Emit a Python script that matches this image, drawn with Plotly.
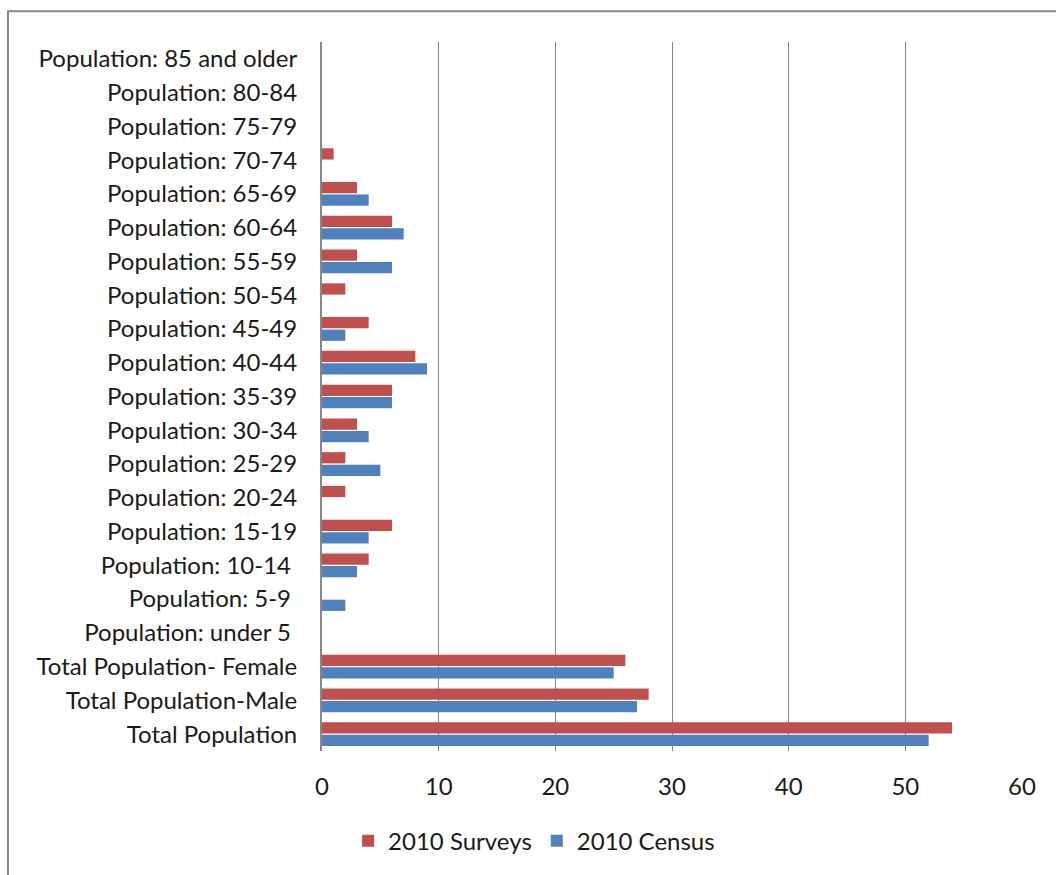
import plotly.graph_objects as go

# Categories listed bottom-to-top as they appear on the vertical axis
categories = [
    "Total Population",
    "Total Population-Male",
    "Total Population- Female",
    "Population: under 5\u00a0",
    "Population: 5-9\u00a0",
    "Population: 10-14\u00a0",
    "Population: 15-19",
    "Population: 20-24",
    "Population: 25-29",
    "Population: 30-34",
    "Population: 35-39",
    "Population: 40-44",
    "Population: 45-49",
    "Population: 50-54",
    "Population: 55-59",
    "Population: 60-64",
    "Population: 65-69",
    "Population: 70-74",
    "Population: 75-79",
    "Population: 80-84",
    "Population: 85 and older",
]

surveys_2010 = [54, 28, 26, 0, 0, 4, 6, 2, 2, 3, 6, 8, 4, 2, 3, 6, 3, 1, 0, 0, 0]
census_2010 = [52, 27, 25, 0, 2, 3, 4, 0, 5, 4, 6, 9, 2, 0, 6, 7, 4, 0, 0, 0, 0]

x_ticks = [0, 10, 20, 30, 40, 50, 60]

RED = "#C0504D"
BLUE = "#4F81BD"
GRID = "#878787"
FONT = "Lato, 'Open Sans', sans-serif"
FS = 24

fig = go.Figure()
# Census trace first so that it sits below the Surveys bar in each group
fig.add_trace(go.Bar(
    y=categories, x=census_2010, name="2010 Census", orientation="h",
    marker=dict(color=BLUE, line=dict(width=0)),
))
fig.add_trace(go.Bar(
    y=categories, x=surveys_2010, name="2010 Surveys", orientation="h",
    marker=dict(color=RED, line=dict(width=0)),
))

fig.update_layout(
    width=1056, height=875,
    margin=dict(l=322, r=34, t=42, b=121),
    paper_bgcolor="white", plot_bgcolor="white",
    barmode="group", bargap=0.26, bargroupgap=0.1,
    font=dict(family=FONT, size=FS, color="#1a1a1a"),
    showlegend=True,
    legend=dict(
        orientation="h", traceorder="reversed",
        x=0.303, xanchor="center", y=-0.127, yanchor="middle",
        font=dict(size=FS), itemwidth=30,
    ),
    xaxis=dict(
        range=[0, 60], tickvals=x_ticks, ticktext=[str(v) for v in x_ticks],
        showgrid=True, gridcolor=GRID, gridwidth=1,
        zeroline=False, showline=False,
        ticks="", ticklabelstandoff=19,
        tickfont=dict(size=FS),
        fixedrange=True,
    ),
    yaxis=dict(
        type="category", categoryorder="array", categoryarray=categories,
        showgrid=False, zeroline=False,
        showline=True, linecolor=GRID, linewidth=2,
        ticks="", ticklabelstandoff=18,
        tickfont=dict(size=FS),
        fixedrange=True,
    ),
    shapes=[
        # chart frame (left and top edges fall inside the page)
        dict(type="rect", xref="paper", yref="paper",
             x0=-0.4486, x1=1.3, y0=-0.4, y1=1.0435,
             line=dict(color="#8A8A8A", width=2), fillcolor="rgba(0,0,0,0)",
             layer="below"),
    ],
)

fig.write_html("out.html")
